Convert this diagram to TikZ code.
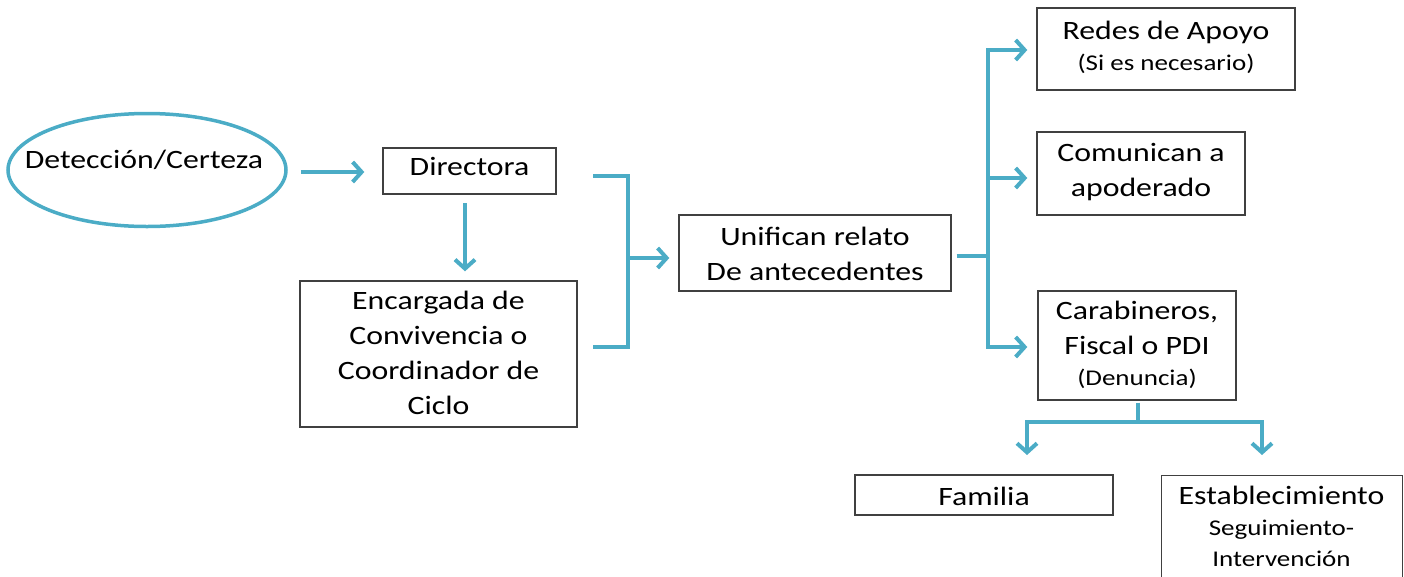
\documentclass[tikz,border=0pt]{standalone}
\usepackage{fontspec}
\setmainfont{Carlito}[FakeStretch=1.2]
\usetikzlibrary{arrows.meta,shapes.geometric}
\definecolor{flow}{HTML}{4BACC6}
\definecolor{boxline}{HTML}{404040}
\tikzset{
  x=1pt,y=-1pt,
  box/.style={draw=boxline,line width=1.4pt,inner sep=0pt,align=center},
  txt/.style={inner sep=0pt,align=center,font=\fontsize{26.5}{35}\selectfont},
  conn/.style={draw=flow,line width=4pt},
  flowarrow/.style={conn,-{Straight Barb[length=9pt,width=20pt,line width=4pt]}},
}
\newcommand{\smalltext}{\fontsize{22.5}{30}\selectfont}
\begin{document}
\begin{tikzpicture}
\useasboundingbox (0,0) rectangle (1404,576);
% ellipse
\node[draw=flow,line width=3.5pt,ellipse,minimum width=278,minimum height=113,inner sep=0pt] (det) at (147,170) {};
\node[txt] (dett) at (144,160) {Detección/Certeza};
% boxes
\node[box,minimum width=173,minimum height=46] (dir) at (469.5,171) {};
\node[txt] (dirt) at (469.5,166) {Directora};
\node[box,minimum width=277,minimum height=146] (enc) at (438.5,354) {};
\node[txt] (enct) at (438.5,353) {Encargada de\\Convivencia o\\Coordinador de\\Ciclo};
\node[box,minimum width=272,minimum height=76] (uni) at (815,253) {};
\node[txt] (unit) at (815,254) {Unifican relato\\De antecedentes};
\node[box,minimum width=258,minimum height=82] (red) at (1166,49) {};
\node[txt] (redt) at (1166,47) {Redes de Apoyo\\[-4pt]{\smalltext(Si es necesario)}};
\node[box,minimum width=208,minimum height=83] (com) at (1141,173.5) {};
\node[txt] (comt) at (1141,172) {Comunican a\\apoderado};
\node[box,minimum width=198,minimum height=109] (car) at (1137,345.5) {};
\node[txt] (cart) at (1137,345) {Carabineros,\\Fiscal o PDI\\[-4pt]{\smalltext(Denuncia)}};
\node[box,minimum width=258,minimum height=40] (fam) at (984,495) {};
\node[txt] (famt) at (984,496) {Familia};
\node[box,minimum width=241,minimum height=140,anchor=north west] (est) at (1161,475) {};
\node[txt,anchor=north] (estt) at (1281.5,486) {Establecimiento\\[-4pt]{\smalltext Seguimiento-}\\[-4pt]{\smalltext Intervención}};
% connectors
\draw[flowarrow] ([xshift=13]det.east |- 0,172) -- ([xshift=-18]dir.west |- 0,172);
\draw[flowarrow] (465,203) -- ([yshift=9]enc.north -| 465,0);
\coordinate (bj) at (628,258);
\draw[conn] (593,176) -- (628,176) -- (628,347) -- (593,347);
\draw[flowarrow] (bj) -- ([xshift=-9]uni.west |- bj);
\coordinate (sj) at (988,256);
\draw[conn] ([xshift=5]uni.east |- sj) -- (sj);
\draw[flowarrow] (988,256) -- (988,50) -- ([xshift=-9]red.west |- 0,50);
\draw[flowarrow] (988,178) -- ([xshift=-9]com.west |- 0,178);
\draw[flowarrow] (988,256) -- (988,347) -- ([xshift=-10]car.west |- 0,347);
\coordinate (cj) at (1138,422);
\draw[conn] ([yshift=-2]car.south -| cj) -- (cj);
\draw[flowarrow] (cj) -- (1027,422) -- (1027,455);
\draw[flowarrow] (cj) -- (1262,422) -- (1262,455);
\end{tikzpicture}
\end{document}
